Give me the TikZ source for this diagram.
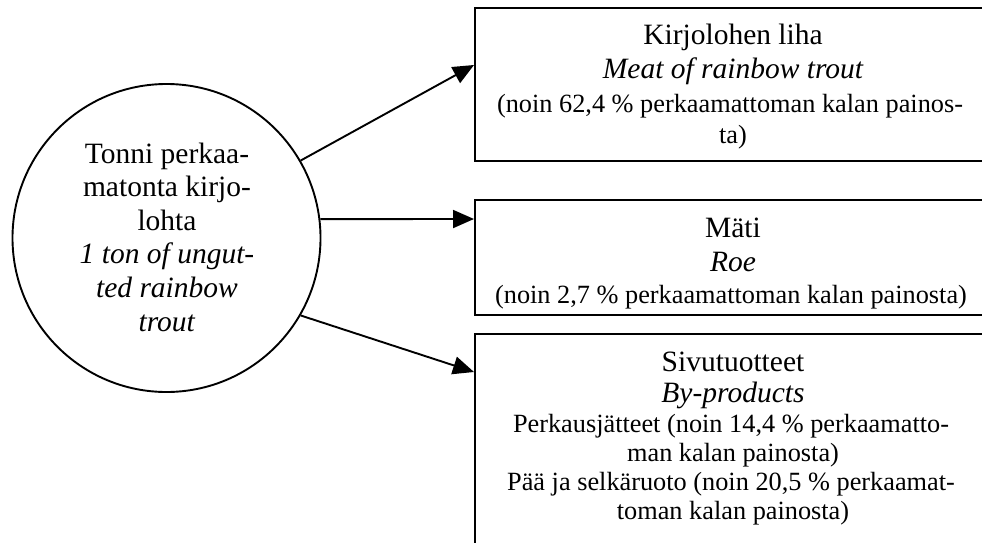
\documentclass[tikz,border=0pt]{standalone}
\usepackage{fontspec}
\setmainfont{Liberation Serif}
\usetikzlibrary{arrows.meta}
\begin{document}
\begin{tikzpicture}[x=1pt,y=-1pt,
  frame/.style={draw, line width=1.9pt, rectangle, anchor=north west,
                inner sep=0pt, minimum width=530pt},
  hub/.style={draw, circle, line width=1.9pt, minimum size=308pt, inner sep=0pt},
  flow/.style={line width=1.9pt, -{Triangle[length=21pt,width=18pt]}},
  big/.style={font=\fontsize{29.5}{33.6}\selectfont, anchor=base, inner sep=0pt},
  small/.style={font=\fontsize{26.3}{30}\selectfont, anchor=base, inner sep=0pt}]
\useasboundingbox (0,0) rectangle (982,543);
\clip (0,0) rectangle (982,543);

% source: one ton of ungutted trout (base anchor sits on the last line)
\node[hub] (src) at (166.5,238) {};
\node[big, align=center] (srctext) at (167,331)
  {Tonni perkaa-\\matonta kirjo-\\lohta\\\textit{1 ton of ungut-}\\\textit{ted rainbow}\\\textit{trout}};

% product boxes (they run on past the right and bottom edges)
\node[frame, minimum height=153pt] (meat) at (474,7) {};
\node[frame, minimum height=115pt] (roe) at (474,199) {};
\node[frame, minimum height=260pt] (byprod) at (474,333) {};

% meat
\node[big] (meat1) at (733,45) {Kirjolohen liha};
\node[big] (meat2) at (733,78) {\itshape Meat of rainbow trout};
\node[small] (meat3) at (730,112) {(noin 62,4 \% perkaamattoman kalan painos-};
\node[small] (meat4) at (733,143) {ta)};

% roe
\node[big] (roe1) at (733,237) {Mäti};
\node[big] (roe2) at (733,271) {\itshape Roe};
\node[small] (roe3) at (731,303) {(noin 2,7 \% perkaamattoman kalan painosta)};

% by-products
\node[big] (by1) at (733,371) {Sivutuotteet};
\node[big] (by2) at (733,402) {\itshape By-products};
\node[small] (by3) at (731,432) {Perkausjätteet (noin 14,4 \% perkaamatto-};
\node[small] (by4) at (733,461) {man kalan painosta)};
\node[small] (by5) at (731,490) {Pää ja selkäruoto (noin 20,5 \% perkaamat-};
\node[small] (by6) at (733,519) {toman kalan painosta)};

% arrow targets on the left edges of the boxes
\coordinate (t1) at (474,65);
\coordinate (t2) at (474,219);
\coordinate (t3) at (474,372);
\draw[flow] (src.30) -- (meat.west |- t1);
\draw[flow] (src.7) -- (roe.west |- t2);
\draw[flow] (src.-30) -- (byprod.west |- t3);
\end{tikzpicture}
\end{document}
